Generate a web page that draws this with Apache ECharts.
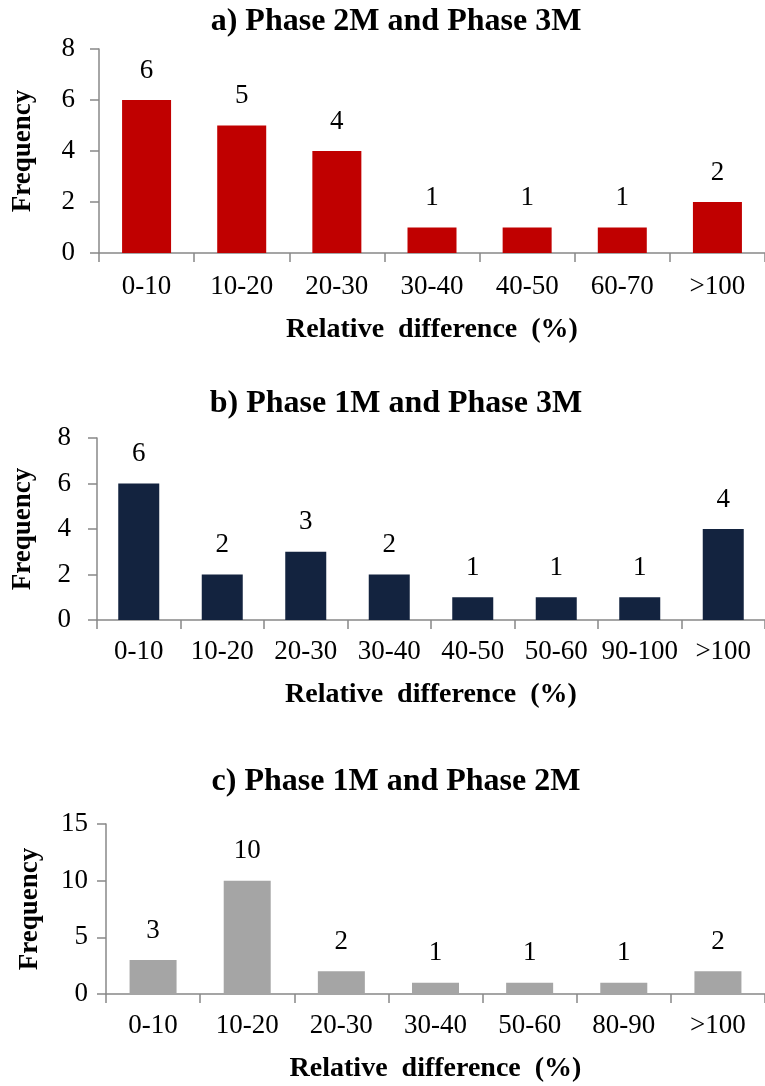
<!DOCTYPE html>
<html>
<head>
<meta charset="utf-8">
<script src="https://cdn.jsdelivr.net/npm/echarts@6/dist/echarts.min.js"></script>
<style>
html,body{margin:0;padding:0;background:#fff;}
#chart{width:765px;height:1086px;}
</style>
</head>
<body>
<div id="chart"></div>
<script>
// ---- data ----
var titleA = 'a) Phase 2M and Phase 3M';
var titleB = 'b) Phase 1M and Phase 3M';
var titleC = 'c) Phase 1M and Phase 2M';
var categoriesA = ['0-10','10-20','20-30','30-40','40-50','60-70','>100'];
var valuesA = [6,5,4,1,1,1,2];
var categoriesB = ['0-10','10-20','20-30','30-40','40-50','50-60','90-100','>100'];
var valuesB = [6,2,3,2,1,1,1,4];
var categoriesC = ['0-10','10-20','20-30','30-40','50-60','80-90','>100'];
var valuesC = [3,10,2,1,1,1,2];
var yTicksAB = {min:0, max:8, interval:2};
var yTicksC = {min:0, max:15, interval:5};
var xName = 'Relative  difference  (%)';
var yName = 'Frequency';

// ---- styles ----
var FONT = '"Liberation Serif","Times New Roman",serif';
var axisColor = '#888888';
var colors = ['#C00000','#13233F','#A5A5A5'];

var panels = [
  {title:titleA, cats:categoriesA, vals:valuesA, ticks:yTicksAB, grid:{left:99, top:49, width:679, height:204}, barWidth:49, titleTop:6, yNameGap:62, yLabelMargin:24, xLabelMargin:20, xNameGap:63},
  {title:titleB, cats:categoriesB, vals:valuesB, ticks:yTicksAB, grid:{left:97, top:438, width:678, height:182}, barWidth:41, titleTop:388, yNameGap:60, yLabelMargin:26, xLabelMargin:18, xNameGap:61},
  {title:titleC, cats:categoriesC, vals:valuesC, ticks:yTicksC, grid:{left:106, top:824, width:668, height:170}, barWidth:47, titleTop:766, yNameGap:62, yLabelMargin:18, xLabelMargin:18, xNameGap:61}
];

var option = {
  animation:false,
  backgroundColor:'#fff',
  title:[], grid:[], xAxis:[], yAxis:[], series:[]
};

panels.forEach(function(p, i){
  option.title.push({
    text:p.title, left:396, top:p.titleTop, textAlign:'center', padding:0,
    textStyle:{fontFamily:FONT, fontSize:32, fontWeight:'bold', color:'#000'}
  });
  option.grid.push(p.grid);
  option.xAxis.push({
    type:'category', gridIndex:i, data:p.cats,
    name:xName, nameLocation:'middle', nameGap:p.xNameGap,
    nameTextStyle:{fontFamily:FONT, fontSize:28, fontWeight:'bold', color:'#000'},
    axisLine:{lineStyle:{color:axisColor, width:1.5}},
    axisTick:{show:true, length:9, lineStyle:{color:axisColor, width:1.5}},
    axisLabel:{fontFamily:FONT, fontSize:27, color:'#000', margin:p.xLabelMargin, interval:0},
    splitLine:{show:false}
  });
  option.yAxis.push({
    type:'value', gridIndex:i, min:p.ticks.min, max:p.ticks.max, interval:p.ticks.interval,
    name:yName, nameLocation:'middle', nameGap:p.yNameGap, nameRotate:90,
    nameTextStyle:{fontFamily:FONT, fontSize:27, fontWeight:'bold', color:'#000'},
    axisLine:{show:true, lineStyle:{color:axisColor, width:1.5}},
    axisTick:{show:true, length:9, lineStyle:{color:axisColor, width:1.5}},
    axisLabel:{fontFamily:FONT, fontSize:27, color:'#000', margin:p.yLabelMargin},
    splitLine:{show:false}
  });
  option.series.push({
    type:'bar', xAxisIndex:i, yAxisIndex:i, data:p.vals, barWidth:p.barWidth,
    itemStyle:{color:colors[i]},
    label:{show:true, position:'top', distance:16, fontFamily:FONT, fontSize:27, color:'#000'}
  });
});

var chart = echarts.init(document.getElementById('chart'), null, {renderer:'canvas'});
chart.setOption(option);
</script>
</body>
</html>
